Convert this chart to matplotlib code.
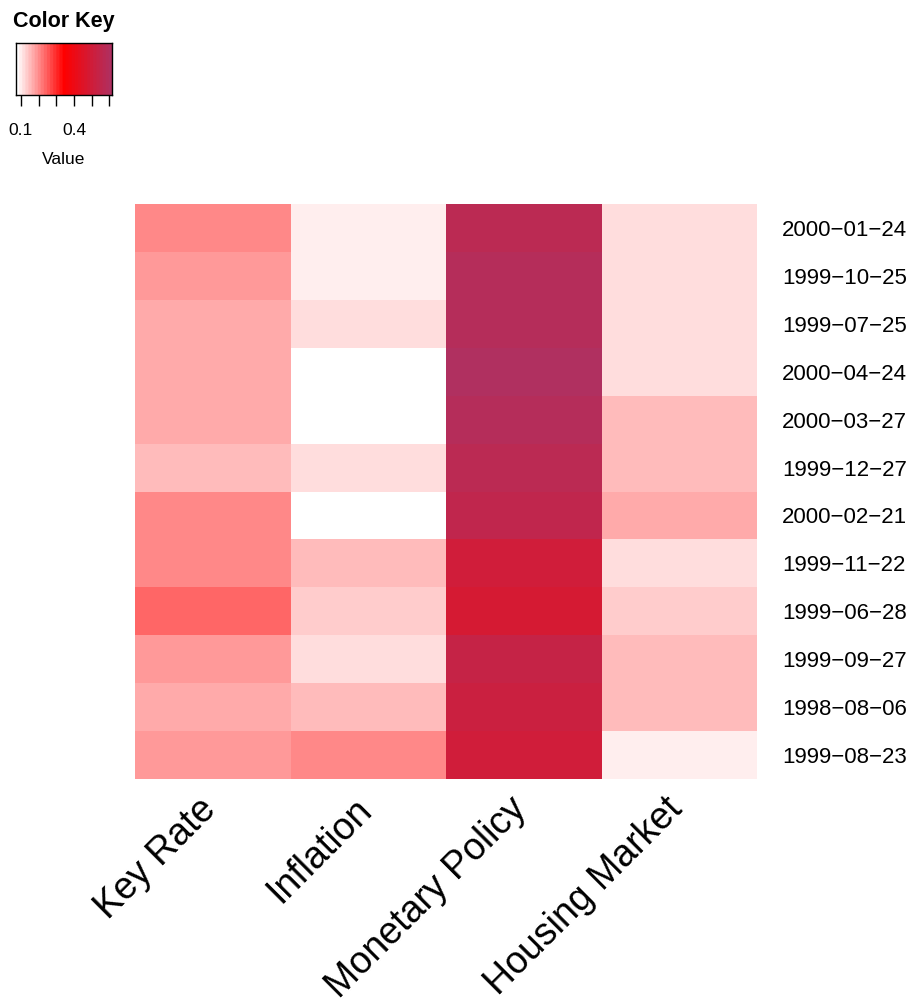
import numpy as np
import matplotlib
matplotlib.use('Agg')
import matplotlib.pyplot as plt
from matplotlib.colors import LinearSegmentedColormap, BoundaryNorm

plt.rcParams['font.family'] = ['Liberation Sans', 'DejaVu Sans']

# topic weights per week, rows in dendrogram order (top to bottom)
dates = ['2000-01-24', '1999-10-25', '1999-07-25', '2000-04-24',
         '2000-03-27', '1999-12-27', '2000-02-21', '1999-11-22',
         '1999-06-28', '1999-09-27', '1998-08-06', '1999-08-23']
topics = ['Key Rate', 'Inflation', 'Monetary Policy', 'Housing Market']

key_rate = [0.204, 0.187, 0.167, 0.170, 0.165, 0.150, 0.201, 0.206,
            0.240, 0.184, 0.169, 0.188]
inflation = [0.097, 0.099, 0.115, 0.072, 0.076, 0.117, 0.079, 0.152,
             0.134, 0.114, 0.150, 0.205]
monetary_policy = [0.572, 0.590, 0.587, 0.615, 0.591, 0.570, 0.553, 0.503,
                   0.485, 0.537, 0.520, 0.500]
housing_market = [0.116, 0.113, 0.118, 0.115, 0.152, 0.149, 0.168, 0.117,
                  0.132, 0.151, 0.153, 0.096]

values = np.column_stack([key_rate, inflation, monetary_policy, housing_market])

# 31-step white -> red -> maroon palette, breaks spanning the data range
n_colors = 31
cmap = LinearSegmentedColormap.from_list('wrm', ['white', 'red', '#B03060'], N=n_colors)
breaks = np.linspace(values.min(), values.max(), n_colors + 1)
norm = BoundaryNorm(breaks, n_colors)

W, H = 908, 1000
fig = plt.figure(figsize=(W / 100, H / 100), dpi=100)

def px_axes(x0, y0, x1, y1):
    # axes from pixel corners (top-left origin)
    return fig.add_axes([x0 / W, 1 - y1 / H, (x1 - x0) / W, (y1 - y0) / H])

# heatmap
ax = px_axes(135, 204, 757, 779)
n_rows, n_cols = values.shape
ax.pcolormesh(np.arange(n_cols + 1), np.arange(n_rows + 1), values,
              cmap=cmap, norm=norm, edgecolors='none')
ax.set_xlim(0, n_cols)
ax.set_ylim(n_rows, 0)
ax.set_axis_off()

col_w = 622 / n_cols
row_h = 575 / n_rows
for i, d in enumerate(dates):
    ax.text(n_cols + 25 / col_w, i + 0.5 + 8 / row_h, d.replace('-', '\u2212'),
            fontsize=16, ha='left', va='baseline')

for j, t in enumerate(topics):
    ax.text(j + 0.5 - 15 / col_w, n_rows + 12 / row_h, t, fontsize=27,
            rotation=45, ha='right', va='top', rotation_mode='anchor')

# color key
kax = px_axes(16, 43, 112, 95)
kax.imshow(np.linspace(breaks[0], breaks[-1], 400)[None, :], aspect='auto',
           cmap=cmap, norm=norm, extent=[breaks[0], breaks[-1], 0, 1])
kax.set_xlim(breaks[0], breaks[-1])
kax.set_yticks([])
kax.set_xticks([0.1, 0.2, 0.3, 0.4, 0.5, 0.6])
kax.set_xticklabels(['0.1', '', '', '0.4', '', ''], fontsize=12.5)
kax.tick_params(axis='x', direction='out', length=8, width=1, pad=12)
for s in kax.spines.values():
    s.set_linewidth(1)
kax.set_xlabel('Value', fontsize=12.5, labelpad=10)

fig.text(64 / W, 1 - 22 / H, 'Color Key', fontsize=15.5, fontweight='bold',
         ha='center', va='center')

fig.savefig('out.png', dpi=100)
